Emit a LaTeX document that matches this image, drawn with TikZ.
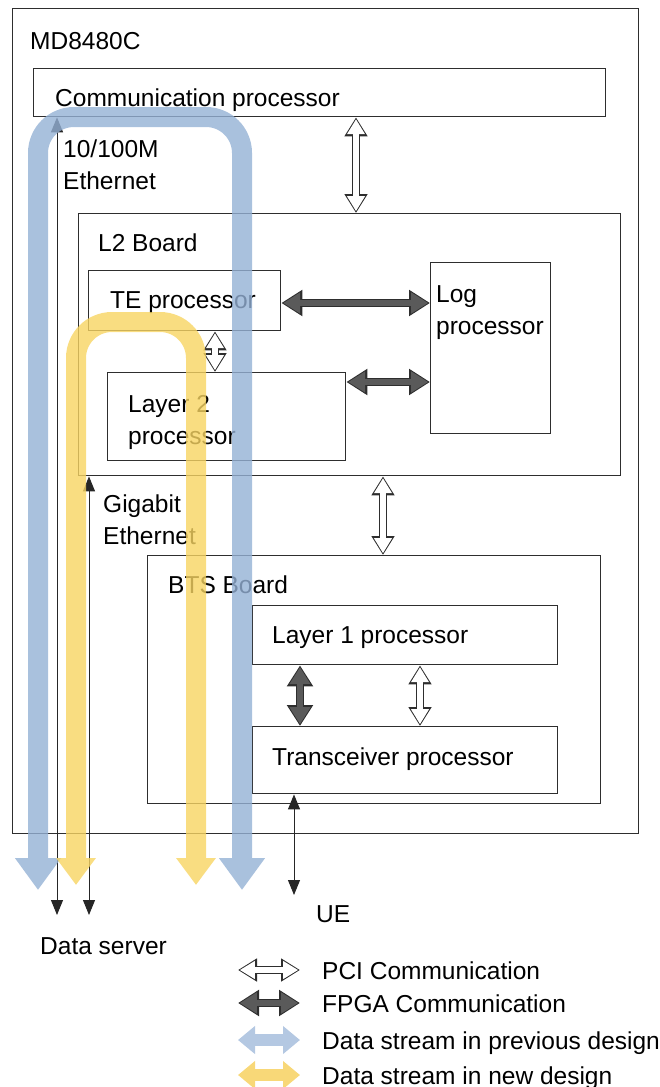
\documentclass[tikz,border=0pt]{standalone}
\usepackage{fontspec}
\setmainfont{Liberation Sans}
\usetikzlibrary{arrows.meta}

\definecolor{streamblue}{HTML}{94B1D5}
\definecolor{streamyellow}{HTML}{F7D462}
\definecolor{legblue}{HTML}{B4C8E2}
\definecolor{legyellow}{HTML}{F8D878}
\definecolor{fpgagray}{HTML}{5A5A5A}
\definecolor{linegray}{HTML}{2E2E2E}

\begin{document}
\begin{tikzpicture}[x=1pt, y=-1pt,
    box/.style={draw=linegray, line width=1.4pt, anchor=north west, inner sep=0pt},
    txt/.style={anchor=base west, inner sep=0pt, font=\fontsize{24.5pt}{32pt}\selectfont, align=left},
    pci/.style={line width=5.5pt, white, {Triangle[length=15pt,width=17pt]}-{Triangle[length=15pt,width=17pt]},
        shorten <=1.8pt, shorten >=1.8pt,
        preaction={draw=linegray, line width=8.3pt, shorten <=0pt, shorten >=0pt,
            {Triangle[length=19pt,width=22pt]}-{Triangle[length=19pt,width=22pt]}}},
    fpga/.style={line width=6pt, fpgagray, {Triangle[length=17pt,width=20pt]}-{Triangle[length=17pt,width=20pt]},
        shorten <=1.8pt, shorten >=1.8pt,
        preaction={draw=linegray, line width=8.8pt, shorten <=0pt, shorten >=0pt,
            {Triangle[length=21pt,width=25pt]}-{Triangle[length=21pt,width=25pt]}}},
    wire/.style={line width=1pt, black!85, {Triangle[length=15pt,width=12pt]}-{Triangle[length=15pt,width=12pt]}},
    band/.style={line width=20pt, rounded corners=36pt},
    legstream/.style={line width=12pt, {Triangle[length=17pt,width=27pt]}-{Triangle[length=17pt,width=27pt]}},
    prevleg/.style={legstream, legblue},
    newleg/.style={legstream, legyellow}
]
\useasboundingbox (0,0) rectangle (660,1087);

% boxes
\node[box, minimum width=626, minimum height=825] (md) at (12,8) {};
\node[box, minimum width=572, minimum height=48] (comm) at (33,68) {};
\node[box, minimum width=542, minimum height=262] (ltwo) at (78,213) {};
\node[box, minimum width=192, minimum height=60] (te) at (88,270) {};
\node[box, minimum width=120, minimum height=171] (log) at (430,262) {};
\node[box, minimum width=238, minimum height=88] (layertwo) at (107,372) {};
\node[box, minimum width=453, minimum height=248] (bts) at (147,555) {};
\node[box, minimum width=305, minimum height=59] (layerone) at (252,605) {};
\node[box, minimum width=305, minimum height=67] (trx) at (252,726) {};

% labels (two-line ones sit on their last baseline)
\node[txt] (mdlabel) at (30,49) {MD8480C};
\node[txt] (commlabel) at (55,106) {Communication processor};
\node[txt] (ethlabel) at (63,189) {10/100M\\Ethernet};
\node[txt] (ltwolabel) at (98,251) {L2 Board};
\node[txt] (telabel) at (110,308) {TE processor};
\node[txt] (loglabel) at (436,334) {Log\\processor};
\node[txt] (layertwolabel) at (128,444) {Layer 2\\processor};
\node[txt] (gigelabel) at (103,544) {Gigabit\\Ethernet};
\node[txt] (btslabel) at (168,593) {BTS Board};
\node[txt] (layeronelabel) at (272,643) {Layer 1 processor};
\node[txt] (trxlabel) at (272,765) {Transceiver processor};
\node[txt] (uelabel) at (316,922) {UE};
\node[txt] (serverlabel) at (40,954) {Data server};

% board links
\draw[pci] (356,0 |- comm.south) -- (356,0 |- ltwo.north);
\draw[pci] (215,0 |- te.south) -- (215,0 |- layertwo.north);
\draw[pci] (383,0 |- ltwo.south) -- (383,0 |- bts.north);
\draw[pci] (420,0 |- layerone.south) -- (420,0 |- trx.north);
\draw[fpga] (te.east |- 0,303) -- (log.west |- 0,303);
\draw[fpga] (layertwo.east |- 0,382) -- (log.west |- 0,382);
\draw[fpga] (300,0 |- layerone.south) -- (300,0 |- trx.north);

% external lines
\coordinate (servera) at (57,915);
\coordinate (serverb) at (89,915);
\coordinate (ue) at (294,895);
\draw[wire] (57,0 |- comm.south) -- (servera);
\draw[wire] (89,0 |- ltwo.south) -- (serverb);
\draw[wire] (294,0 |- trx.south) -- (ue);

% data streams
\begin{scope}[transparency group, opacity=0.8]
\draw[band, streamblue, {Triangle[length=32pt,width=44pt]}-{Triangle[length=32pt,width=44pt]}]
    (38,890) -- (38,117) -- (242,117) -- (242,890);
\end{scope}
\begin{scope}[transparency group, opacity=0.8]
\draw[band, streamyellow, {Triangle[length=27pt,width=38pt]}-{Triangle[length=27pt,width=38pt]}]
    (76,885) -- (76,322) -- (196,322) -- (196,885);
\end{scope}

% legend
\foreach \i/\yy/\sty/\txt in {1/970/pci/PCI Communication, 2/1003/fpga/FPGA Communication,
    3/1040/prevleg/Data stream in previous design, 4/1075/newleg/Data stream in new design} {
    \coordinate (lega-\i) at (238,\yy);
    \coordinate (legb-\i) at (300,\yy);
    \draw[\sty] (lega-\i) -- (legb-\i);
    \node[txt] (legtext-\i) at (322,\yy+9) {\txt};
}
\end{tikzpicture}
\end{document}
